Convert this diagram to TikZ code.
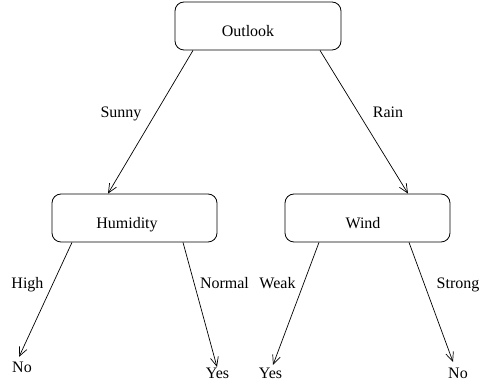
\documentclass[tikz,border=0pt]{standalone}
\usepackage{fontspec}
\setmainfont{Liberation Serif}
\usetikzlibrary{arrows.meta}
\begin{document}
\begin{tikzpicture}[x=1pt,y=-1pt,
  every node/.style={font=\fontsize{16}{19}\selectfont},
  decbox/.style={draw,line width=0.8pt,rounded corners=9pt,minimum height=48pt,inner sep=0pt,text height=23pt,text depth=1pt},
  lbl/.style={anchor=base,inner sep=0pt},
  leaf/.style={anchor=base,inner sep=0pt},
  edge/.style={line width=0.7pt,-{Straight Barb[length=9pt,width=8pt,line width=0.7pt]}}]
\useasboundingbox (0,0) rectangle (480,387);
\node[decbox,minimum width=166pt] (outlook) at (258,26) {Outlook\hspace*{20pt}};
\node[decbox,minimum width=165pt] (hum) at (134.5,218) {Humidity\hspace*{15pt}};
\node[decbox,minimum width=165pt] (wind) at (367.5,218) {Wind\hspace*{9pt}};
\node[leaf] (no1) at (22,373) {No};
\node[leaf] (yes1) at (217.5,379) {Yes};
\node[leaf] (yes2) at (270.5,379) {Yes};
\node[leaf] (no2) at (458,379) {No};
\node[lbl] (sunny) at (121,118) {Sunny};
\node[lbl] (rain) at (388,118) {Rain};
\node[lbl] (high) at (27.5,289) {High};
\node[lbl] (normal) at (224.5,289) {Normal};
\node[lbl] (weak) at (277.5,289) {Weak};
\node[lbl] (strong) at (458,289) {Strong};
\draw[edge] ([xshift=-65pt]outlook.south) -- ([xshift=-26.5pt]hum.north);
\draw[edge] ([xshift=62pt]outlook.south) -- ([xshift=40.5pt]wind.north);
\draw[edge] ([xshift=-62.5pt]hum.south) -- ([xshift=-3pt,yshift=5.4pt]no1.north);
\draw[edge] ([xshift=48.5pt]hum.south) -- ([xshift=-0.5pt,yshift=1.4pt]yes1.north);
\draw[edge] ([xshift=-48.5pt]wind.south) -- ([xshift=2.5pt,yshift=3.4pt]yes2.north);
\draw[edge] ([xshift=41.5pt]wind.south) -- ([xshift=-5pt,yshift=6.4pt]no2.north);
\end{tikzpicture}
\end{document}
